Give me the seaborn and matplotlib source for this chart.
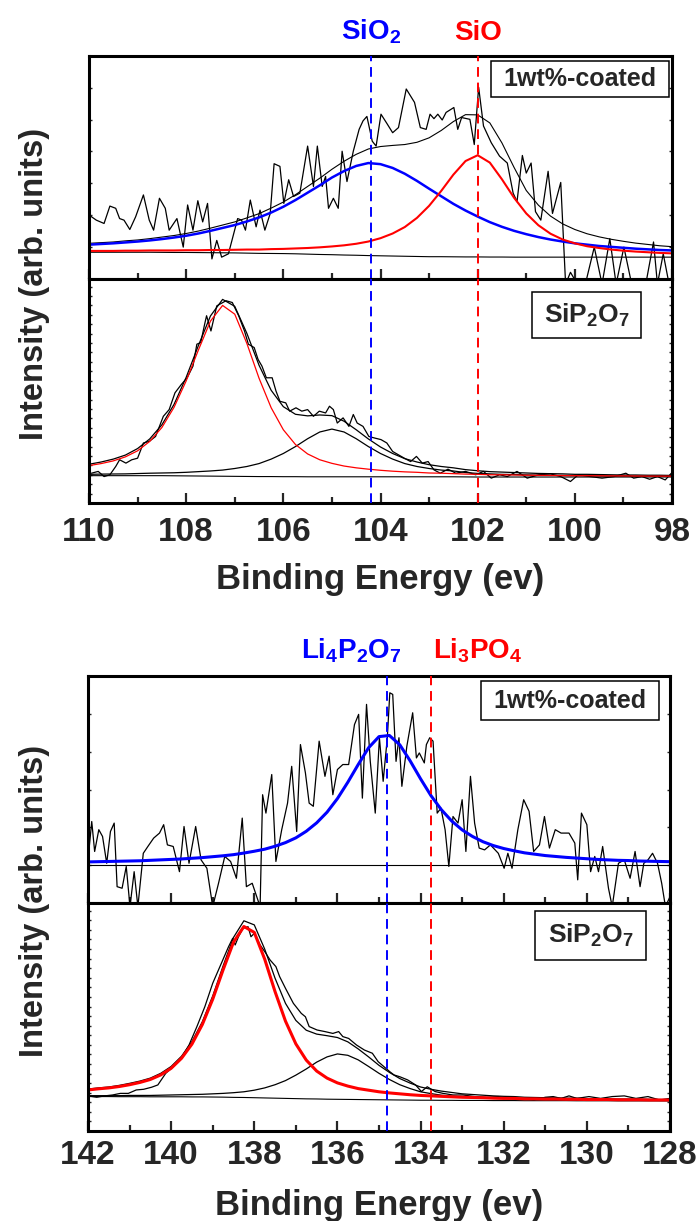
import numpy as np
import pandas as pd
import seaborn as sns
import matplotlib
matplotlib.use("Agg")
import matplotlib.pyplot as plt
from matplotlib.ticker import MultipleLocator, NullLocator
from matplotlib.patches import Rectangle
import matplotlib.transforms as mtransforms

# ---------------- DATA ----------------
# Si 2p region (binding energy, eV) -- fit-curve sampling grid
si_grid = [110.0, 109.75, 109.5, 109.25, 109.0, 108.75, 108.5, 108.25, 108.0, 107.75,
           107.5, 107.25, 107.0, 106.75, 106.5, 106.25, 106.0, 105.75, 105.5, 105.25,
           105.0, 104.75, 104.5, 104.25, 104.0, 103.75, 103.5, 103.25, 103.0, 102.75,
           102.5, 102.25, 102.0, 101.75, 101.5, 101.25, 101.0, 100.75, 100.5, 100.25,
           100.0, 99.75, 99.5, 99.25, 99.0, 98.75, 98.5, 98.25, 98.0]

# 1wt%-coated, Si 2p
si_coat_base = [12.0, 12.0, 12.0, 12.0, 12.0, 12.0, 11.95, 11.9, 11.9, 11.85, 11.8, 11.75, 11.7,
                11.6, 11.5, 11.45, 11.4, 11.3, 11.15, 11.0, 10.9, 10.75, 10.65, 10.5, 10.4, 10.3,
                10.2, 10.1, 10.0, 10.0, 9.95, 9.9, 9.9, 9.85, 9.85, 9.8, 9.8, 9.8, 9.8, 9.8, 9.8,
                9.8, 9.8, 9.8, 9.8, 9.8, 9.8, 9.8, 9.8]
si_coat_sio2 = [15.4, 15.7, 16.0, 16.4, 16.8, 17.3, 17.9, 18.6, 19.4, 20.4, 21.6, 22.9, 24.2,
                25.8, 27.6, 29.8, 32.4, 35.4, 38.7, 42.0, 45.5, 48.4, 50.7, 52.0, 51.5, 49.8,
                47.2, 44.0, 40.5, 37.1, 33.7, 30.7, 28.0, 25.5, 23.4, 21.6, 20.1, 18.8, 17.7,
                16.8, 16.0, 15.4, 14.8, 14.4, 14.0, 13.6, 13.3, 13.0, 12.8]
si_coat_sio = [12.6, 12.6, 12.6, 12.7, 12.7, 12.8, 12.8, 12.8, 12.9, 12.9, 13.0, 13.0, 13.1,
               13.2, 13.2, 13.4, 13.5, 13.7, 13.9, 14.2, 14.6, 15.1, 15.8, 16.8, 18.3, 20.4,
               23.3, 27.4, 32.8, 39.5, 46.8, 52.9, 55.5, 52.2, 44.7, 36.4, 29.4, 24.1, 20.3,
               17.7, 16.0, 14.7, 13.9, 13.2, 12.7, 12.3, 12.0, 11.7, 11.5]
si_coat_env = [16.0, 16.3, 16.6, 17.1, 17.5, 18.1, 18.8, 19.5, 20.4, 21.5, 22.8, 24.2, 25.6,
               27.4, 29.3, 31.8, 34.5, 37.8, 41.5, 45.2, 49.2, 52.8, 55.9, 58.3, 59.4, 59.9,
               60.3, 61.3, 63.3, 66.6, 70.6, 73.7, 73.6, 70.0, 61.0, 50.0, 39.7, 33.1, 28.2,
               24.7, 22.2, 20.3, 18.9, 17.8, 16.9, 16.1, 15.5, 14.9, 14.5]
si_coat_E = [110.00, 109.85, 109.69, 109.57, 109.45, 109.37, 109.28, 109.16, 109.04, 108.88,
             108.76, 108.67, 108.55, 108.43, 108.35, 108.19, 108.06, 107.97, 107.86, 107.76,
             107.66, 107.56, 107.47, 107.37, 107.27, 107.13, 106.94, 106.86, 106.78, 106.68,
             106.56, 106.48, 106.38, 106.27, 106.19, 106.07, 105.99, 105.89, 105.79, 105.66,
             105.50, 105.38, 105.30, 105.20, 105.13, 105.07, 104.97, 104.87, 104.79, 104.69,
             104.56, 104.44, 104.36, 104.28, 104.17, 104.09, 103.99, 103.87, 103.75, 103.63,
             103.47, 103.30, 103.18, 103.06, 102.98, 102.90, 102.82, 102.73, 102.65, 102.49,
             102.41, 102.33, 102.16, 102.07, 101.98, 101.88, 101.72, 101.55, 101.39, 101.27,
             101.19, 101.08, 101.00, 100.90, 100.81, 100.70, 100.55, 100.46, 100.29, 100.19,
             100.09, 99.97, 99.80, 99.60, 99.44, 99.28, 99.15, 98.99, 98.83, 98.54,
             98.38, 98.30, 98.18, 98.06]
si_coat_I = [28.7, 26.4, 24.9, 32.7, 31.7, 27.1, 26.4, 22.2, 27.9, 37.7,
             26.4, 21.9, 36.2, 31.7, 21.9, 27.1, 14.3, 33.2, 21.9, 35.1,
             25.6, 33.9, 9.0, 17.3, 9.8, 11.3, 27.1, 26.4, 21.9, 35.4,
             23.4, 30.9, 21.9, 29.4, 51.7, 50.5, 33.9, 44.5, 37.0, 38.5,
             59.6, 41.5, 59.6, 41.5, 46.0, 31.7, 36.2, 31.7, 57.3, 43.7,
             57.3, 67.1, 70.9, 72.9, 61.8, 59.6, 73.9, 69.8, 65.6, 67.9,
             85.2, 79.2, 67.9, 67.1, 73.9, 71.9, 73.9, 71.3, 74.7, 76.9,
             67.1, 72.4, 71.6, 60.3, 86.0, 68.6, 61.1, 55.1, 52.0, 38.5,
             34.7, 55.4, 47.5, 52.0, 30.2, 26.4, 48.3, 29.4, 43.3, -2.3,
             3.0, -1.5, -3.8, 14.3, -2.3, 18.1, -2.3, 14.3, -2.3, -2.3,
             16.6, -2.3, 11.3, -2.3]

# SiP2O7 reference, Si 2p
si_ref_base = [12.2, 12.2, 12.2, 12.2, 12.2, 12.2, 12.2, 12.15, 12.1, 12.05, 12.0, 11.95, 11.9,
               11.85, 11.8, 11.8, 11.75, 11.75, 11.7, 11.7, 11.7, 11.7, 11.7, 11.7, 11.7, 11.7,
               11.7, 11.7, 11.7, 11.7, 11.7, 11.65, 11.6, 11.6, 11.6, 11.6, 11.6, 11.6, 11.6,
               11.6, 11.6, 11.6, 11.6, 11.6, 11.6, 11.6, 11.6, 11.6, 11.6]
si_ref_main = [16.7, 17.6, 18.8, 20.6, 23.3, 27.5, 33.7, 42.7, 54.5, 68.2, 81.2, 88.2, 84.3,
               71.2, 55.7, 42.5, 32.7, 26.1, 21.9, 19.3, 17.7, 16.5, 15.7, 15.1, 14.6, 14.2,
               13.9, 13.7, 13.4, 13.3, 13.1, 12.9, 12.8, 12.6, 12.6, 12.5, 12.4, 12.35, 12.3,
               12.25, 12.2, 12.2, 12.15, 12.1, 12.1, 12.05, 12.0, 12.0, 12.0]
si_ref_second = [12.8, 12.9, 12.95, 13.0, 13.15, 13.3, 13.4, 13.5, 13.7, 14.0, 14.3, 14.7, 15.4,
                 16.3, 17.6, 19.6, 22.1, 25.2, 28.7, 31.7, 33.0, 31.7, 28.7, 25.2, 22.1, 19.6,
                 17.6, 16.3, 15.4, 14.7, 14.3, 13.6, 13.2, 13.0, 12.8, 12.7, 12.55, 12.45,
                 12.35, 12.3, 12.2, 12.15, 12.1, 12.05, 12.0, 12.0, 11.95, 11.95, 11.9]
si_ref_env = [17.3, 18.3, 19.6, 21.4, 24.3, 28.6, 34.9, 44.0, 56.1, 70.2, 83.5, 90.9, 87.8,
              75.7, 61.5, 50.3, 43.0, 39.6, 38.9, 39.3, 39.0, 36.5, 32.7, 28.6, 25.0, 22.1,
              19.8, 18.3, 17.1, 16.3, 15.7, 14.9, 14.4, 14.0, 13.8, 13.6, 13.4, 13.2, 13.1,
              13.0, 12.8, 12.8, 12.7, 12.6, 12.5, 12.5, 12.4, 12.4, 12.3]
si_ref_E = [109.95, 109.81, 109.69, 109.57, 109.45, 109.37, 109.24, 109.12, 109.00, 108.88,
            108.76, 108.63, 108.47, 108.35, 108.23, 108.10, 107.98, 107.86, 107.78, 107.70,
            107.62, 107.58, 107.49, 107.37, 107.18, 107.05, 106.92, 106.80, 106.72, 106.60,
            106.52, 106.44, 106.35, 106.23, 106.15, 106.07, 105.95, 105.87, 105.74, 105.62,
            105.50, 105.38, 105.26, 105.13, 105.05, 104.97, 104.89, 104.77, 104.65, 104.56,
            104.48, 104.36, 104.24, 104.12, 103.99, 103.87, 103.75, 103.63, 103.51, 103.38,
            103.26, 103.14, 103.02, 102.90, 102.77, 102.61, 102.45, 102.25, 102.04, 101.88,
            101.72, 101.55, 101.39, 101.19, 100.98, 100.74, 100.50, 100.29, 100.09, 99.93,
            99.68, 99.44, 99.19, 98.95, 98.79, 98.62, 98.46, 98.30, 98.14, 98.00]
si_ref_I = [13.3, 14.1, 11.8, 12.6, 16.3, 19.3, 17.8, 19.3, 20.0, 26.8,
            27.5, 29.7, 38.7, 41.7, 49.2, 52.9, 55.9, 61.1, 70.9, 71.6,
            79.8, 83.6, 76.8, 88.0, 90.3, 89.5, 83.6, 76.8, 70.9, 69.4,
            64.1, 61.1, 55.9, 55.9, 49.9, 45.4, 44.7, 41.0, 42.5, 41.0,
            41.7, 38.7, 41.0, 40.2, 43.2, 41.7, 35.7, 38.0, 34.2, 39.5,
            35.7, 34.2, 29.7, 29.0, 28.3, 26.8, 23.0, 21.5, 20.0, 18.5,
            20.8, 17.8, 18.5, 14.8, 13.3, 15.1, 13.3, 14.1, 12.6, 14.1,
            11.1, 12.6, 11.8, 14.1, 11.1, 12.6, 13.0, 11.8, 9.6, 12.6,
            11.8, 11.1, 11.8, 13.3, 11.1, 11.8, 10.6, 11.8, 10.3, 13.6]

# P 2p region
p_grid = [142.0, 141.75, 141.5, 141.25, 141.0, 140.75, 140.5, 140.25, 140.0, 139.75,
          139.5, 139.25, 139.0, 138.75, 138.5, 138.25, 138.0, 137.75, 137.5, 137.25,
          137.0, 136.75, 136.5, 136.25, 136.0, 135.75, 135.5, 135.25, 135.0, 134.75,
          134.5, 134.25, 134.0, 133.75, 133.5, 133.25, 133.0, 132.75, 132.5, 132.25,
          132.0, 131.75, 131.5, 131.25, 131.0, 130.75, 130.5, 130.25, 130.0, 129.75,
          129.5, 129.25, 129.0, 128.75, 128.5, 128.25, 128.0]

# 1wt%-coated, P 2p
p_coat_base_E = [142.0, 128.0]
p_coat_base = [16.8, 16.8]
p_coat_li4p2o7 = [18.1, 18.2, 18.3, 18.4, 18.5, 18.6, 18.8, 19.0, 19.2, 19.4, 19.7, 20.0, 20.4,
                  20.8, 21.3, 22.0, 22.8, 23.7, 25.0, 26.6, 28.7, 31.6, 35.3, 40.0, 46.0, 53.2,
                  61.0, 68.4, 73.3, 73.8, 69.7, 62.6, 54.7, 47.3, 41.1, 36.1, 32.2, 29.3, 27.0,
                  25.3, 24.0, 23.0, 22.1, 21.5, 20.9, 20.5, 20.1, 19.8, 19.5, 19.2, 19.0, 18.8,
                  18.7, 18.5, 18.4, 18.3, 18.2]
p_coat_E = [142.00, 141.91, 141.84, 141.74, 141.65, 141.55, 141.46, 141.37, 141.30, 141.18,
            141.08, 140.99, 140.89, 140.80, 140.67, 140.56, 140.42, 140.28, 140.18, 140.09,
            139.95, 139.80, 139.69, 139.57, 139.41, 139.28, 139.14, 139.00, 138.86, 138.71,
            138.57, 138.43, 138.29, 138.19, 138.05, 137.86, 137.80, 137.72, 137.58, 137.48,
            137.34, 137.20, 137.10, 136.98, 136.89, 136.77, 136.68, 136.58, 136.44, 136.30,
            136.20, 136.11, 136.00, 135.87, 135.73, 135.59, 135.49, 135.40, 135.30, 135.21,
            135.09, 134.99, 134.90, 134.80, 134.74, 134.67, 134.59, 134.52, 134.45, 134.33,
            134.19, 134.10, 134.03, 133.91, 133.86, 133.78, 133.70, 133.60, 133.51, 133.41,
            133.32, 133.22, 133.10, 133.00, 132.91, 132.80, 132.70, 132.59, 132.46, 132.32,
            132.13, 131.99, 131.90, 131.80, 131.66, 131.52, 131.39, 131.28, 131.14, 131.02,
            130.90, 130.76, 130.62, 130.43, 130.29, 130.22, 130.13, 130.00, 129.91, 129.81,
            129.72, 129.62, 129.48, 129.39, 129.24, 129.10, 128.96, 128.84, 128.72, 128.63,
            128.53, 128.42, 128.30, 128.20, 128.11, 128.00]
p_coat_I = [19.0, 35.9, 22.7, 32.3, 29.3, 17.5, 31.5, 35.2, 7.2, 6.5,
            16.1, -1.6, 13.8, -1.6, 21.9, 24.9, 28.6, 30.8, 34.5, 25.6,
            24.9, 13.8, 33.7, 17.5, 33.7, 19.0, 15.3, -1.6, 8.7, 20.5,
            18.3, 10.9, 37.4, 7.2, 8.7, -1.6, 47.7, 39.6, 56.6, 18.3,
            32.3, 44.0, 60.2, 31.5, 69.8, 57.3, 44.0, 42.6, 71.3, 55.8,
            64.7, 47.7, 58.8, 61.0, 61.0, 78.6, 83.1, 46.2, 87.5, 62.4,
            39.6, 72.8, 53.6, 72.8, 92.6, 91.9, 62.4, 72.8, 51.4, 69.1,
            83.8, 63.9, 66.1, 61.7, 69.8, 72.8, 71.3, 39.6, 41.8, 32.3,
            16.1, 38.1, 35.2, 45.5, 22.7, 55.8, 35.2, 24.2, 23.4, 25.6,
            21.9, 15.3, 21.9, 15.3, 32.3, 45.5, 40.4, 22.7, 25.6, 38.1,
            24.2, 32.3, 30.8, 30.8, 26.4, 10.2, 39.6, 34.5, 13.8, 20.5,
            13.8, 24.9, 6.5, -1.6, 17.5, 19.0, 10.9, 22.7, 7.2, 17.5,
            19.0, 21.9, 17.5, 8.7, -1.6, 2.8]

# SiP2O7 reference, P 2p
p_ref_base = [15.1, 15.1, 15.1, 15.05, 15.05, 15.05, 15.0, 15.0, 15.0, 15.0, 14.95, 14.95, 14.9,
              14.85, 14.75, 14.7, 14.6, 14.5, 14.4, 14.3, 14.2, 14.1, 14.05, 13.95, 13.9, 13.85,
              13.8, 13.75, 13.7, 13.65, 13.6, 13.55, 13.5, 13.5, 13.45, 13.45, 13.4, 13.4, 13.4,
              13.35, 13.35, 13.35, 13.3, 13.3, 13.3, 13.3, 13.3, 13.25, 13.25, 13.25, 13.25,
              13.2, 13.2, 13.2, 13.2, 13.2, 13.2]
p_ref_main = [18.0, 18.5, 18.9, 19.5, 20.3, 21.3, 22.6, 24.6, 27.5, 31.9, 38.1, 46.7, 57.8,
              70.7, 82.8, 89.7, 87.1, 75.4, 61.1, 48.2, 38.2, 31.1, 26.3, 23.2, 21.1, 19.7,
              18.6, 17.9, 17.2, 16.7, 16.3, 15.9, 15.6, 15.4, 15.2, 15.0, 14.8, 14.7, 14.6,
              14.4, 14.3, 14.3, 14.1, 14.1, 14.0, 14.0, 13.9, 13.9, 13.8, 13.8, 13.8, 13.7,
              13.7, 13.7, 13.6, 13.6, 13.6]
p_ref_second = [15.5, 15.5, 15.5, 15.5, 15.6, 15.6, 15.6, 15.7, 15.8, 15.9, 16.0, 16.1, 16.3,
                16.5, 16.8, 17.2, 17.9, 18.9, 20.3, 22.1, 24.5, 27.2, 30.2, 32.5, 33.8, 33.2,
                31.2, 28.3, 25.3, 22.6, 20.3, 18.6, 17.2, 16.4, 15.7, 15.3, 14.9, 14.7, 14.5,
                14.3, 14.2, 14.1, 14.0, 13.9, 13.9, 13.8, 13.8, 13.7, 13.6, 13.6, 13.6, 13.5,
                13.5, 13.5, 13.5, 13.4, 13.4]
p_ref_env = [18.4, 18.9, 19.3, 20.0, 20.9, 21.9, 23.2, 25.3, 28.3, 32.8, 39.2, 47.9, 59.2,
             72.4, 84.9, 92.2, 90.4, 79.8, 67.0, 56.0, 48.5, 44.2, 42.5, 41.8, 41.0, 39.1,
             36.0, 32.5, 28.8, 25.7, 23.0, 21.0, 19.3, 18.3, 17.5, 16.9, 16.3, 16.0, 15.7,
             15.4, 15.2, 15.1, 14.8, 14.7, 14.6, 14.5, 14.4, 14.4, 14.2, 14.2, 14.1, 14.0,
             14.0, 14.0, 13.9, 13.8, 13.8]
p_ref_E = [142.00, 141.79, 141.60, 141.41, 141.22, 141.03, 140.84, 140.66, 140.47, 140.32,
           140.13, 139.95, 139.76, 139.57, 139.38, 139.19, 139.00, 138.81, 138.62, 138.52,
           138.46, 138.38, 138.27, 138.15, 138.08, 138.00, 137.86, 137.72, 137.62, 137.48,
           137.39, 137.25, 137.06, 136.87, 136.77, 136.68, 136.49, 136.30, 136.11, 135.97,
           135.87, 135.73, 135.54, 135.35, 135.16, 135.02, 134.88, 134.74, 134.64, 134.50,
           134.31, 134.12, 133.98, 133.84, 133.65, 133.46, 133.22, 132.98, 132.70, 132.42,
           132.13, 131.85, 131.56, 131.28, 131.00, 130.81, 130.62, 130.43, 130.24, 129.95,
           129.67, 129.39, 129.10, 128.82, 128.53, 128.25, 128.00]
p_ref_I = [15.4, 14.8, 15.4, 15.8, 16.5, 16.5, 18.0, 18.3, 19.2, 20.2,
           25.3, 28.2, 31.9, 37.7, 45.8, 54.5, 64.8, 72.8, 80.8, 84.5,
           81.6, 85.2, 88.9, 89.6, 85.2, 86.7, 81.6, 77.9, 75.0, 72.1,
           67.7, 62.6, 56.0, 51.6, 50.1, 45.8, 44.3, 43.6, 42.8, 43.6,
           41.4, 40.6, 37.7, 35.5, 34.1, 30.4, 28.2, 26.0, 24.6, 23.8,
           22.4, 20.2, 17.3, 19.4, 17.3, 16.5, 15.8, 15.8, 15.1, 14.8,
           15.1, 14.3, 14.3, 13.6, 14.8, 15.1, 14.3, 15.4, 14.3, 15.1,
           14.3, 15.1, 15.4, 14.3, 15.1, 13.6, 14.3]

# reference peak positions and labels
si_markers = [104.2, 102.0]
si_marker_labels = ["SiO$_2$", "SiO"]
p_markers = [134.8, 133.75]
p_marker_labels = ["Li$_4$P$_2$O$_7$", "Li$_3$PO$_4$"]
sample_labels = ["1wt%-coated", "SiP$_2$O$_7$"]

# ---------------- STYLE ----------------
sns.set_style("ticks")
plt.rcParams["font.family"] = ["Liberation Sans", "DejaVu Sans"]
plt.rcParams["font.weight"] = "bold"
plt.rcParams["mathtext.fontset"] = "custom"
plt.rcParams["mathtext.rm"] = "Liberation Sans:bold"
plt.rcParams["mathtext.bf"] = "Liberation Sans:bold"
plt.rcParams["mathtext.it"] = "Liberation Sans:bold"
plt.rcParams["mathtext.default"] = "rm"

BLUE = "#0000FF"
RED = "#FF0000"
BLACK = "#000000"

W, H = 700, 1221
fig = plt.figure(figsize=(W / 100, H / 100), dpi=100)


def add_ax(left, top, right, bottom):
    return fig.add_axes([left / W, 1 - bottom / H, (right - left) / W, (bottom - top) / H])


ax1 = add_ax(89, 56, 672, 279)
ax2 = add_ax(89, 279, 672, 503)
ax3 = add_ax(88, 676, 670, 903)
ax4 = add_ax(88, 903, 670, 1131)


def draw(ax, x, y, color, lw):
    sns.lineplot(x=x, y=y, ax=ax, color=color, linewidth=lw, estimator=None,
                 sort=False, legend=False)


def style(ax, xlim, ystep, labels, pad=5):
    ax.set_xlim(*xlim)
    ax.set_ylim(0, 100)
    ax.xaxis.set_major_locator(MultipleLocator(2))
    ax.xaxis.set_minor_locator(MultipleLocator(1))
    ax.yaxis.set_major_locator(MultipleLocator(ystep))
    ax.yaxis.set_minor_locator(NullLocator())
    ax.tick_params(axis="x", which="major", direction="in", length=7, width=1.6,
                   top=False, bottom=True, labelsize=24, pad=pad, labelbottom=labels)
    ax.tick_params(axis="x", which="minor", direction="in", length=4.5, width=1.6,
                   top=False, bottom=True)
    ax.tick_params(axis="y", which="major", direction="in", length=2.5, width=1.0,
                   left=True, right=True, labelleft=False, labelright=False)
    for s in ax.spines.values():
        s.set_linewidth(2.2)
        s.set_color(BLACK)
    ax.set_xlabel("")
    ax.set_ylabel("")


def label_box(ax, x0, y0, x1, y1, text, size):
    rect = Rectangle((x0, y0), x1 - x0, y1 - y0, transform=ax.transAxes,
                     facecolor="white", edgecolor=BLACK, linewidth=1.1, zorder=10)
    ax.add_patch(rect)
    ax.text((x0 + x1) / 2, (y0 + y1) / 2, text, transform=ax.transAxes, ha="center",
            va="center", fontsize=size, fontweight="bold", zorder=11)


# ---- Si 2p, coated ----
draw(ax1, si_grid, si_coat_base, BLACK, 0.8)
draw(ax1, si_coat_E, si_coat_I, BLACK, 0.9)
draw(ax1, si_grid, si_coat_env, BLACK, 0.8)
draw(ax1, si_grid, si_coat_sio2, BLUE, 1.8)
draw(ax1, si_grid, si_coat_sio, RED, 1.5)
# ---- Si 2p, SiP2O7 ----
draw(ax2, si_grid, si_ref_base, BLACK, 0.8)
draw(ax2, si_ref_E, si_ref_I, BLACK, 0.9)
draw(ax2, si_grid, si_ref_env, BLACK, 0.9)
draw(ax2, si_grid, si_ref_second, BLACK, 0.9)
draw(ax2, si_grid, si_ref_main, RED, 0.9)
# ---- P 2p, coated ----
draw(ax3, p_coat_base_E, p_coat_base, BLACK, 0.8)
draw(ax3, p_coat_E, p_coat_I, BLACK, 0.9)
draw(ax3, p_grid, p_coat_li4p2o7, BLUE, 2.2)
# ---- P 2p, SiP2O7 ----
draw(ax4, p_grid, p_ref_base, BLACK, 0.8)
draw(ax4, p_ref_E, p_ref_I, BLACK, 0.9)
draw(ax4, p_grid, p_ref_env, BLACK, 0.9)
draw(ax4, p_grid, p_ref_second, BLACK, 0.9)
draw(ax4, p_grid, p_ref_main, RED, 2.2)

style(ax1, (110, 98), 14.3, False)
style(ax2, (110, 98), 4.2, True, pad=10)
style(ax3, (142, 128), 16.65, False)
style(ax4, (142, 128), 4.2, True, pad=6.5)

for ax in (ax1, ax2):
    for pos, col in zip(si_markers, (BLUE, RED)):
        ax.axvline(pos, color=col, linestyle=(0, (5, 3)), linewidth=1.4, zorder=5)
for ax in (ax3, ax4):
    for pos, col in zip(p_markers, (BLUE, RED)):
        ax.axvline(pos, color=col, linestyle=(0, (5, 3)), linewidth=1.4, zorder=5)

# labels above the panels
tr1 = mtransforms.blended_transform_factory(ax1.transData, ax1.transAxes)
ax1.text(si_markers[0], 1.072, si_marker_labels[0], transform=tr1, ha="center",
         va="baseline", color=BLUE, fontsize=20, fontweight="bold")
ax1.text(si_markers[1], 1.072, si_marker_labels[1], transform=tr1, ha="center",
         va="baseline", color=RED, fontsize=20, fontweight="bold")
tr3 = mtransforms.blended_transform_factory(ax3.transData, ax3.transAxes)
ax3.text(p_markers[0] - 0.35, 1.075, p_marker_labels[0], transform=tr3, ha="right",
         va="baseline", color=BLUE, fontsize=20, fontweight="bold")
ax3.text(p_markers[1] - 0.05, 1.075, p_marker_labels[1], transform=tr3, ha="left",
         va="baseline", color=RED, fontsize=20, fontweight="bold")

# sample boxes
label_box(ax1, 0.690, 0.816, 0.995, 0.978, sample_labels[0], 18)
label_box(ax2, 0.760, 0.737, 0.947, 0.942, sample_labels[1], 19)
label_box(ax3, 0.675, 0.806, 0.981, 0.978, sample_labels[0], 18)
label_box(ax4, 0.768, 0.750, 0.959, 0.965, sample_labels[1], 19)

ax2.set_xlabel("Binding Energy (ev)", fontsize=25, fontweight="bold", labelpad=11)
ax4.set_xlabel("Binding Energy (ev)", fontsize=25, fontweight="bold", labelpad=13)

fig.text(35 / W, 1 - 284 / H, "Intensity (arb. units)", rotation=90, ha="center",
         va="center", fontsize=23.5, fontweight="bold")
fig.text(35 / W, 1 - 901 / H, "Intensity (arb. units)", rotation=90, ha="center",
         va="center", fontsize=23.5, fontweight="bold")

fig.savefig("out.png", dpi=100)
